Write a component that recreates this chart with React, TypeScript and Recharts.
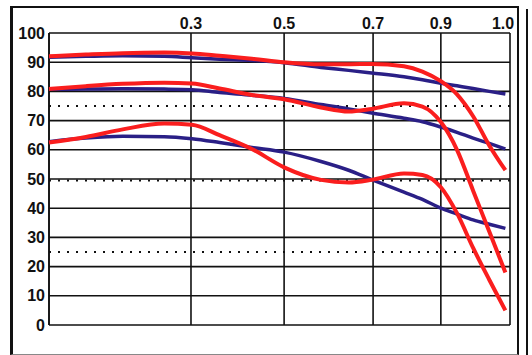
import { LineChart, Line, XAxis, YAxis, CartesianGrid, ReferenceLine } from 'recharts';

// x positions are fractions of the plot width (the printed scale is not linear)
const X_POS = [0, 0.08, 0.16, 0.25, 0.31, 0.37, 0.44, 0.51, 0.59, 0.65, 0.7, 0.77, 0.81, 0.85, 0.885, 0.92, 0.955, 0.99];

const TOP_BLUE = [91.7, 92, 92.2, 92, 91.5, 91, 90.6, 89.8, 88.2, 87.2, 86.3, 85, 84, 82.8, 81.9, 81, 80, 79.1];
const TOP_RED = [92, 92.6, 93.1, 93.3, 93, 92.2, 91.2, 90, 89.3, 89.3, 89.4, 88.6, 86.8, 83.5, 79, 71.5, 61.5, 53];
const MID_BLUE = [80.7, 80.8, 80.9, 80.8, 80.6, 79.6, 78.7, 77.6, 75.5, 74, 72.6, 70.8, 69.6, 67.8, 66, 64, 62.2, 60.3];
const MID_RED = [80.8, 81.8, 82.6, 83, 82.7, 81, 78.8, 77.3, 74.5, 73.1, 74, 75.9, 74.8, 69.5, 60, 46, 32, 18];
const LOW_BLUE = [62.8, 64, 64.6, 64.5, 63.8, 62.5, 60.8, 59.2, 56, 53, 49.8, 45.5, 43, 40, 38, 36, 34.5, 33.1];
const LOW_RED = [62.5, 64.4, 67, 69, 68.6, 65, 60.3, 54, 49.7, 48.8, 49.7, 51.9, 51.4, 47.2, 38.3, 26.4, 15.5, 5];

const X_TICKS = [0.308, 0.51, 0.703, 0.85, 1.0];
const X_LABELS = ['0.3', '0.5', '0.7', '0.9', '1.0'];
const Y_TICKS = [0, 10, 20, 30, 40, 50, 60, 70, 80, 90, 100];
const DOTTED_LEVELS = [75, 49.5, 25];

const RED = '#fa1e1e';
const BLUE = '#2a1f86';
const FONT = '"Liberation Sans", Arial, sans-serif';

const data = X_POS.map((x, i) => ({
  x,
  topBlue: TOP_BLUE[i],
  topRed: TOP_RED[i],
  midBlue: MID_BLUE[i],
  midRed: MID_RED[i],
  lowBlue: LOW_BLUE[i],
  lowRed: LOW_RED[i],
}));

const XTick = ({ x, y, payload }: any) => {
  const idx = X_TICKS.indexOf(payload.value);
  const last = idx === X_TICKS.length - 1;
  return (
    <text x={last ? x - 7 : x} y={y} dy={-2} textAnchor="middle" fill="#111" fontSize={16} fontWeight="bold" fontFamily={FONT}>
      {X_LABELS[idx]}
    </text>
  );
};

export default function App() {
  return (
    <div style={{ position: 'absolute', left: 0, top: 0, width: 532, height: 355, background: '#fff' }}>
      <div style={{ position: 'absolute', left: 10, top: 6, width: 504, height: 346, borderLeft: '3px solid #111', borderTop: '2px solid #111', borderRight: '2px solid #111', borderBottom: '1px solid #888' }} />
      <div style={{ position: 'absolute', left: 526, top: 9, width: 2, height: 346, background: '#111' }} />
      <div style={{ position: 'absolute', left: 0, top: 0 }}>
        <LineChart width={532} height={355} data={data} margin={{ top: 13, right: 22, bottom: 30, left: 9 }}>
          <CartesianGrid stroke="#111" strokeWidth={1.6} />
          <XAxis
            dataKey="x"
            type="number"
            orientation="top"
            domain={[0, 1]}
            ticks={X_TICKS}
            height={20}
            axisLine={false}
            tickLine={false}
            tickSize={0}
            tick={<XTick />}
            interval={0}
          />
          <YAxis
            type="number"
            domain={[0, 100]}
            ticks={Y_TICKS}
            width={40}
            axisLine={false}
            tickLine={false}
            tickSize={0}
            tickMargin={4}
            tick={{ fill: '#111', fontSize: 16, fontWeight: 'bold', fontFamily: FONT }}
            interval={0}
          />
          <ReferenceLine x={0} stroke="#111" strokeWidth={1.6} />
          {DOTTED_LEVELS.map((v) => (
            <ReferenceLine key={v} y={v} stroke="#111" strokeWidth={2} strokeDasharray="2 7" />
          ))}
          <Line type="monotone" dataKey="topBlue" stroke={BLUE} strokeWidth={3.5} dot={false} isAnimationActive={false} />
          <Line type="monotone" dataKey="midBlue" stroke={BLUE} strokeWidth={3.5} dot={false} isAnimationActive={false} />
          <Line type="monotone" dataKey="lowBlue" stroke={BLUE} strokeWidth={3.5} dot={false} isAnimationActive={false} />
          <Line type="monotone" dataKey="topRed" stroke={RED} strokeWidth={4} dot={false} isAnimationActive={false} />
          <Line type="monotone" dataKey="midRed" stroke={RED} strokeWidth={4} dot={false} isAnimationActive={false} />
          <Line type="monotone" dataKey="lowRed" stroke={RED} strokeWidth={4} dot={false} isAnimationActive={false} />
        </LineChart>
      </div>
    </div>
  );
}
